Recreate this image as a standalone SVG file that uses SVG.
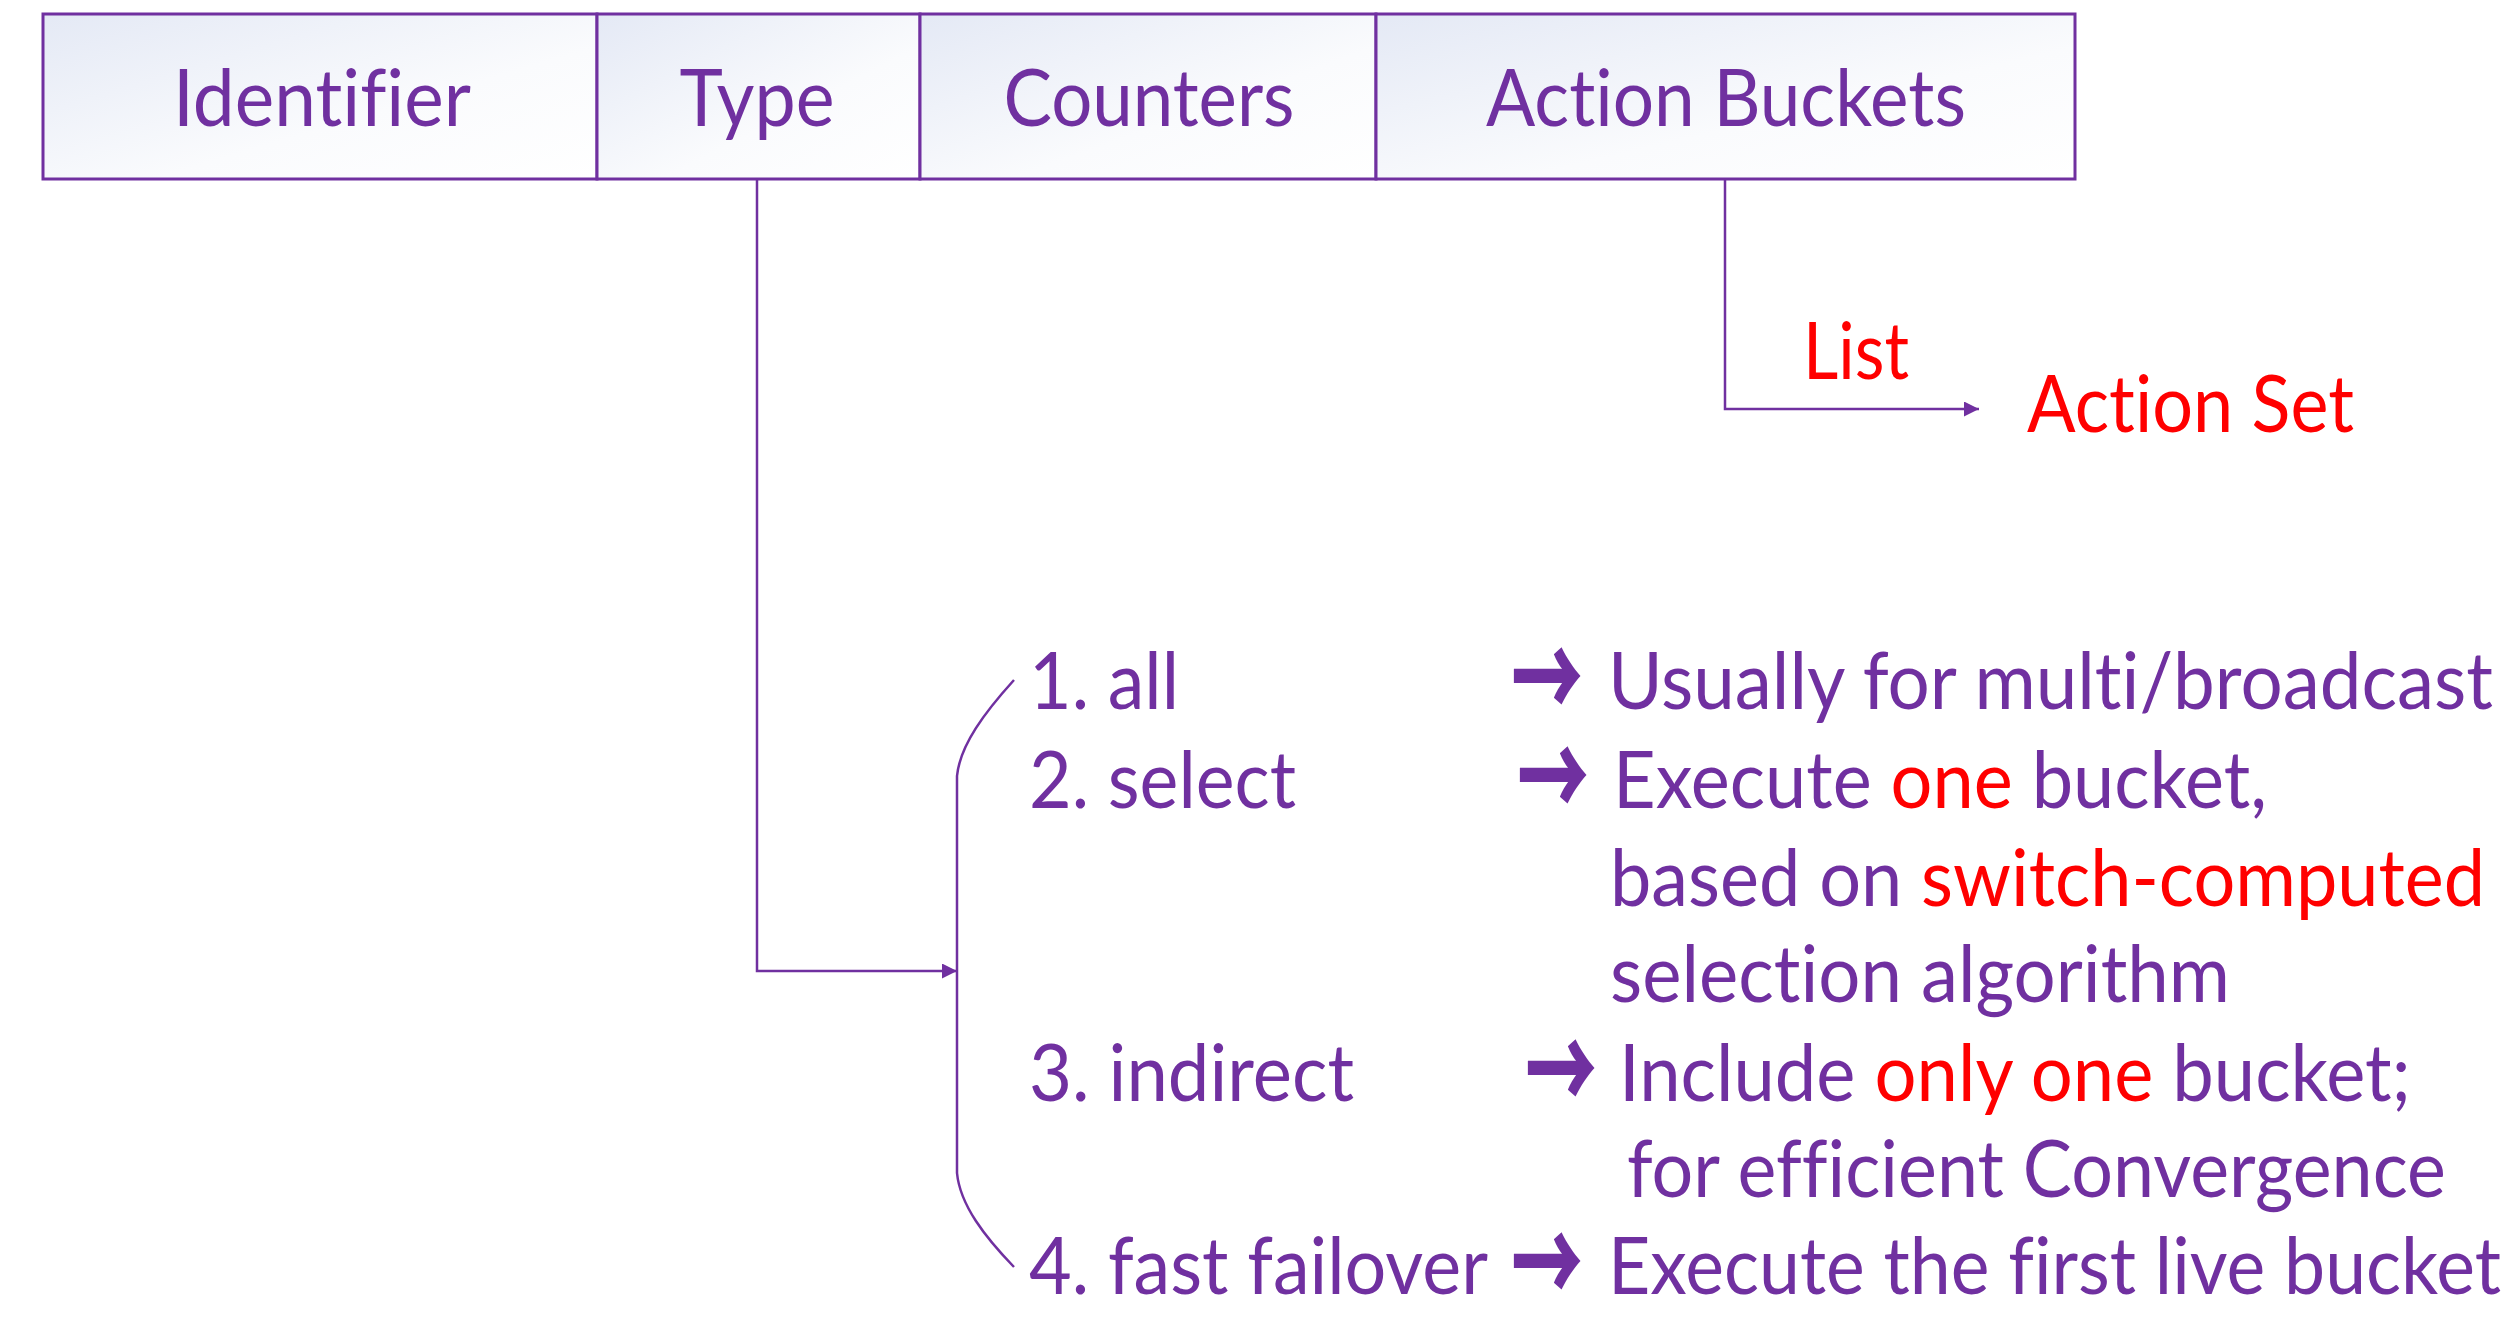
<svg xmlns="http://www.w3.org/2000/svg" width="2509" height="1340" viewBox="0 0 2509 1340">
<style>
.box{stroke:#7030A0;stroke-width:3;fill:url(#g)}
.t{font-family:Lato,"Open Sans",sans-serif;font-size:80px;fill:#7030A0;font-variant-ligatures:none;font-feature-settings:"liga" 0}
.c{text-anchor:middle}
.r{fill:#FF0000}
.ar{font-family:"Noto Sans CJK SC","DejaVu Sans",sans-serif;font-weight:900;font-size:118px;fill:#7030A0}
.ln{stroke:#7030A0;stroke-width:2.5;fill:none}
</style>
<defs>
<linearGradient id="g" x1="0" y1="0" x2="1" y2="1">
<stop offset="0" stop-color="#E4E9F5"/>
<stop offset="0.6" stop-color="#FAFBFD"/>
<stop offset="1" stop-color="#FFFFFF"/>
</linearGradient>
<marker id="ah" viewBox="0 0 10 10" refX="10" refY="5" markerWidth="6" markerHeight="6" markerUnits="strokeWidth" orient="auto">
<path d="M0,0 L10,5 L0,10 z" fill="#7030A0"/>
</marker>
</defs>
<g id="identifier">
<rect class="box" x="43" y="14" width="554" height="165"/>
<text class="t c" x="322" y="126" textLength="298" lengthAdjust="spacingAndGlyphs">Identifier</text>
</g>
<g id="type">
<rect class="box" x="597" y="14" width="323" height="165"/>
<text class="t c" x="757" y="126" textLength="155" lengthAdjust="spacingAndGlyphs">Type</text>
</g>
<g id="counters">
<rect class="box" x="920" y="14" width="456" height="165"/>
<text class="t c" x="1149" y="126" textLength="291" lengthAdjust="spacingAndGlyphs">Counters</text>
</g>
<g id="action-buckets">
<rect class="box" x="1376" y="14" width="699" height="165"/>
<text class="t c" x="1726" y="126" textLength="480" lengthAdjust="spacingAndGlyphs">Action Buckets</text>
</g>
<g id="connectors">
<path class="ln" d="M1725,179 L1725,409 L1979,409" marker-end="url(#ah)"/>
<path class="ln" d="M757,179 L757,971 L957,971" marker-end="url(#ah)"/>
<path class="ln" d="M1014,680 C985,712 960,745 957,776 L957,1173 C960,1205 985,1237 1014,1267"/>
</g>
<g id="list-label">
<text class="t r" x="1803" y="379" textLength="106" lengthAdjust="spacingAndGlyphs">List</text>
</g>
<g id="action-set">
<text class="t r" x="2027" y="432" textLength="327" lengthAdjust="spacingAndGlyphs">Action Set</text>
</g>
<g id="type-all">
<text class="t" x="1029" y="709" textLength="150" lengthAdjust="spacingAndGlyphs">1. all</text>
<text class="ar" x="1511" y="721" textLength="72" lengthAdjust="spacingAndGlyphs">→</text>
<text class="t" x="1608" y="709" textLength="885" lengthAdjust="spacingAndGlyphs">Usually for multi/broadcast</text>
</g>
<g id="type-select">
<text class="t" x="1029" y="808" textLength="267" lengthAdjust="spacingAndGlyphs">2. select</text>
<text class="ar" x="1517" y="820" textLength="72" lengthAdjust="spacingAndGlyphs">→</text>
<text class="t" x="1613" y="808" textLength="654" lengthAdjust="spacingAndGlyphs">Execute <tspan class="r">one</tspan> bucket,</text>
<text class="t" x="1610" y="906" textLength="875" lengthAdjust="spacingAndGlyphs">based on <tspan class="r">switch-computed</tspan></text>
<text class="t" x="1610" y="1002" textLength="620" lengthAdjust="spacingAndGlyphs">selection algorithm</text>
</g>
<g id="type-indirect">
<text class="t" x="1029" y="1101" textLength="325" lengthAdjust="spacingAndGlyphs">3. indirect</text>
<text class="ar" x="1525" y="1113" textLength="72" lengthAdjust="spacingAndGlyphs">→</text>
<text class="t" x="1619" y="1101" textLength="792" lengthAdjust="spacingAndGlyphs">Include <tspan class="r">only one</tspan> bucket;</text>
<text class="t" x="1627" y="1197" textLength="819" lengthAdjust="spacingAndGlyphs">for efficient Convergence</text>
</g>
<g id="type-fast-failover">
<text class="t" x="1029" y="1294" textLength="459" lengthAdjust="spacingAndGlyphs">4. fast failover</text>
<text class="ar" x="1511" y="1306" textLength="72" lengthAdjust="spacingAndGlyphs">→</text>
<text class="t" x="1608" y="1294" textLength="893" lengthAdjust="spacingAndGlyphs">Execute the first live bucket</text>
</g>
</svg>
